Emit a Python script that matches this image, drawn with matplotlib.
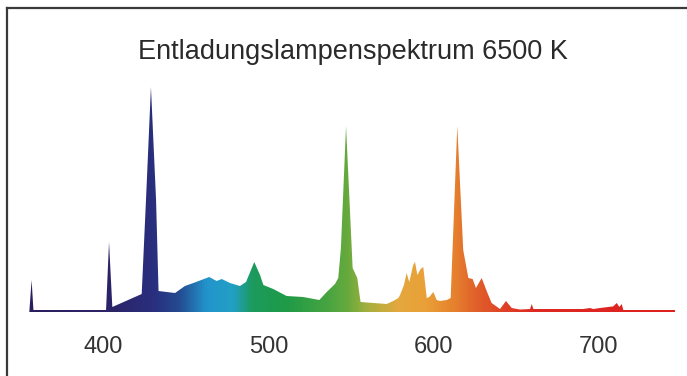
import matplotlib
matplotlib.use("Agg")
import matplotlib.pyplot as plt
from matplotlib.colors import LinearSegmentedColormap
from matplotlib.patches import Polygon
from matplotlib.lines import Line2D
import numpy as np

plt.rcParams['font.family'] = ['Liberation Sans', 'DejaVu Sans']

title = 'Entladungslampenspektrum 6500 K'
tick_values = [400, 500, 600, 700]

# wavelength (nm) and relative intensity
wavelength = [355.1, 356.5, 357.6, 401.6, 403.4, 405.4, 423.2, 425.8, 428.8, 431.9,
              433.4, 438.3, 443.4, 449.4, 454.5, 464.1, 468.6, 471.7, 476.7, 482.7,
              486.4, 491.4, 494.9, 496.9, 502.9, 511.0, 521.1, 530.8, 535.3, 540.3,
              542.3, 543.9, 547.0, 551.0, 553.8, 555.8, 571.6, 575.6, 578.7, 579.7,
              582.1, 583.7, 585.3, 587.7, 588.8, 590.2, 592.2, 593.8, 595.9, 597.4,
              599.9, 601.9, 603.9, 608.0, 610.4, 614.4, 618.0, 621.1, 623.7, 625.7,
              629.2, 632.2, 635.2, 640.3, 643.9, 647.4, 652.4, 658.5, 659.5, 660.5,
              690.7, 694.8, 696.8, 700.9, 708.9, 711.0, 712.6, 714.0, 715.0, 746.3]
intensity = [0, 32, 2, 2, 70, 5, 18, 112, 225, 112,
             21, 20, 19, 26, 29, 35, 31, 33, 29, 26,
             30, 50, 37, 27, 23, 16, 15, 12, 20, 28,
             34, 64, 186, 44, 34, 10, 8, 11, 14, 17,
             27, 39, 30, 47, 50, 37, 43, 45, 14, 15,
             20, 12, 11, 12, 14, 186, 62, 34, 33, 24,
             34, 21, 9, 3, 11, 4, 2.5, 3, 8, 3,
             3, 4, 3, 4, 5.6, 9, 5, 8, 2, 2]

# colour stops along the wavelength axis
color_nm = [350, 405, 430, 445, 462, 478, 490, 510, 535, 548, 560, 578, 595, 612, 625, 640, 660, 750]
color_hex = ['#2b1d5e', '#2c2468', '#292f7e', '#24498f', '#2294cc', '#22a0c4', '#1c9a5c', '#1f9a48',
             '#46a441', '#68aa3d', '#a6b03e', '#e3a83e', '#eaa038', '#e6822e', '#e0622a', '#df4626',
             '#dd2a22', '#dd2020']

xmin, xmax = 350, 750
stops = [(c - xmin) / (xmax - xmin) for c in color_nm]
cmap = LinearSegmentedColormap.from_list('spec', list(zip(stops, color_hex)))

fig = plt.figure(figsize=(6.87, 3.76), dpi=100)
ax = fig.add_axes([0.0304, 0.1702, 0.961, 0.6383])
ax.set_xlim(xmin, xmax)
ax.set_ylim(0, 240)

verts = [(wavelength[0], 0)] + list(zip(wavelength, intensity)) + [(wavelength[-1], 0)]
poly = Polygon(verts, closed=True, facecolor='none', edgecolor='none')
ax.add_patch(poly)
grad = np.linspace(0, 1, 512).reshape(1, -1)
im = ax.imshow(grad, extent=[xmin, xmax, 0, 240], aspect='auto', cmap=cmap, origin='lower')
im.set_clip_path(poly)

for s in ax.spines.values():
    s.set_visible(False)
ax.set_yticks([])
ax.set_xticks(tick_values)
ax.tick_params(axis='x', length=0, pad=17, labelsize=17, labelcolor='#333333')

fig.text(352.5 / 687, 1 - 52 / 376, title, ha='center', va='center',
         fontsize=19.5, color='#2a2a2a')

# frame (cropped at right and bottom)
fig.add_artist(Line2D([7 / 687, 7 / 687], [0, 1 - 8 / 376], color='#3a3a3a', lw=1.6))
fig.add_artist(Line2D([7 / 687, 1], [1 - 8 / 376, 1 - 8 / 376], color='#3a3a3a', lw=1.6))

fig.savefig('out.png', dpi=100)
